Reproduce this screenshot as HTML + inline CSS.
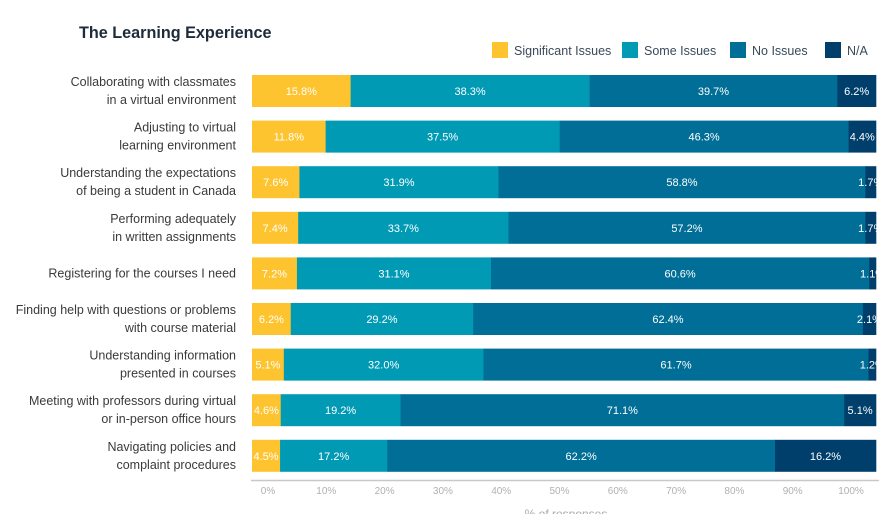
<!DOCTYPE html>
<html><head><meta charset="utf-8"><style>
body{margin:0;width:896px;height:514px;overflow:hidden;background:#fff;font-family:"Liberation Sans",sans-serif;position:relative}
.t{position:absolute}
</style></head><body>
<div class="t" style="left:79px;top:24px;font-size:16.2px;font-weight:bold;color:#1d2b3a">The Learning Experience</div>
<div id="legend"></div>
<svg id="c" width="896" height="514" style="position:absolute;left:0;top:0"></svg>
<script>
const categories=[["Collaborating with classmates","in a virtual environment"],["Adjusting to virtual","learning environment"],["Understanding the expectations","of being a student in Canada"],["Performing adequately","in written assignments"],["Registering for the courses I need"],["Finding help with questions or problems","with course material"],["Understanding information","presented in courses"],["Meeting with professors during virtual","or in-person office hours"],["Navigating policies and","complaint procedures"]];
const significant=[15.8,11.8,7.6,7.4,7.2,6.2,5.1,4.6,4.5];
const some=[38.3,37.5,31.9,33.7,31.1,29.2,32.0,19.2,17.2];
const none=[39.7,46.3,58.8,57.2,60.6,62.4,61.7,71.1,62.2];
const na=[6.2,4.4,1.7,1.7,1.1,2.1,1.2,5.1,16.2];
const ticks=["0%","10%","20%","30%","40%","50%","60%","70%","80%","90%","100%"];
const seriesNames=["Significant Issues","Some Issues","No Issues","N/A"];
const colors=["#fec430","#009ab5","#006e96","#003f6b"];
const NS="http://www.w3.org/2000/svg",svg=document.getElementById('c');
const x0=252,W=624,y0=75,step=45.6,bh=32;
const xs=v=>x0+v/100*W;
const rowY=i=>y0+i*step;
function mk(t,a){const e=document.createElementNS(NS,t);for(const k in a)e.setAttribute(k,a[k]);svg.appendChild(e);return e;}
const series=[significant,some,none,na];
categories.forEach((lab,i)=>{
  const y=rowY(i);
  const tot=series.reduce((s,a)=>s+a[i],0);
  let acc=0;
  series.forEach((arr,s)=>{
    const v=arr[i]/tot*100;
    const r=mk('rect',{x:xs(acc),y:y,width:xs(acc+v)-xs(acc)+0.3,height:bh,fill:colors[s]});
    
    
    const tx=mk('text',{x:(xs(acc)+xs(acc+v))/2,y:y+bh/2+4,'text-anchor':'middle','font-size':11,fill:'#fff','font-family':'Liberation Sans'});
    tx.textContent=arr[i].toFixed(1)+'%';
    
    
    acc+=v;
  });
  const n=lab.length;
  lab.forEach((l,k)=>{
    const t=mk('text',{x:236,y:y+bh/2+4+(k-(n-1)/2)*18,'text-anchor':'end','font-size':12.5,fill:'#3a3a3a'});
    t.textContent=l;
    
    
  });
});
const ax=mk('line',{x1:251,x2:879,y1:480.5,y2:480.5,stroke:'#c8c8c8','stroke-width':1.5});


ticks.forEach((tk,i)=>{
  const t=mk('text',{x:268+i*58.3,y:494,'text-anchor':'middle','font-size':10,fill:'#b0b0b0'});
  t.textContent=tk;
  
  
});
const xt=mk('text',{x:566,y:518,'text-anchor':'middle','font-size':12,fill:'#aaa'});
xt.textContent='% of responses';


const lx=[492,622,730,825];
seriesNames.forEach((s,i)=>{
  const r=mk('rect',{x:lx[i],y:42,width:16,height:16,fill:colors[i]});
  
  
  const t=mk('text',{x:lx[i]+22,y:55,'font-size':12.5,fill:'#3a4a5a'});
  t.textContent=s;
  
  
});
</script>
</body></html>
